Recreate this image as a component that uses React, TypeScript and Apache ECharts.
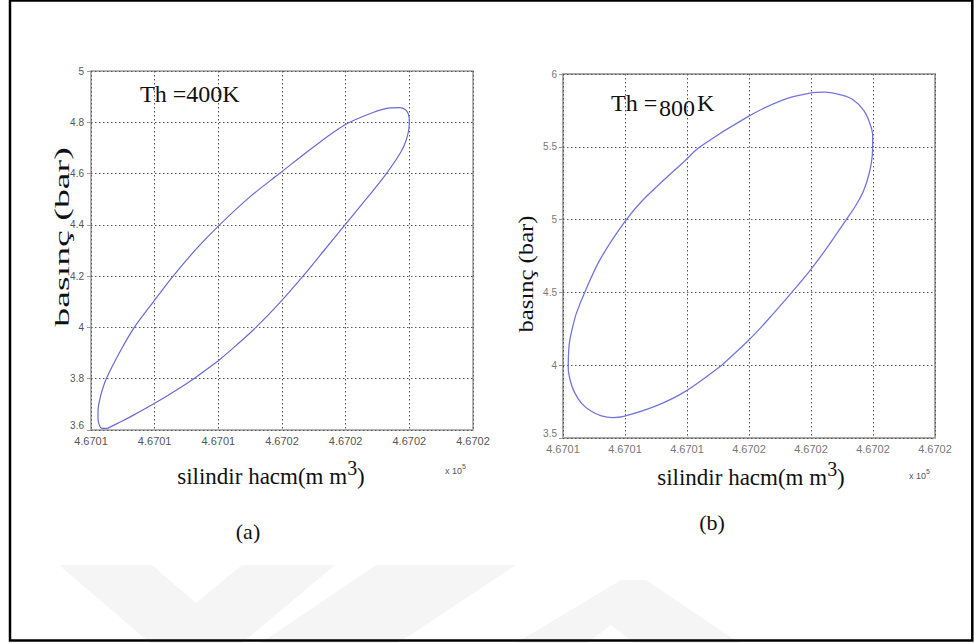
import React, { useEffect, useRef } from 'react';
import * as echarts from 'echarts';

// Cylinder volume (mm³) and pressure (bar) around one cycle, Th = 400 K
const volume400 = [
  467014.0, 467013.62, 467013.3, 467013.0, 467012.66, 467012.45, 467012.33, 467012.24,
  467012.17, 467012.13, 467012.11, 467012.11, 467012.13, 467012.17, 467012.24, 467012.455,
  467012.68, 467012.98, 467013.29, 467013.65, 467014.02, 467014.5, 467014.96, 467015.5,
  467015.99, 467016.43, 467016.7, 467016.85, 467016.94, 467016.985, 467017.0, 467016.99,
  467016.95, 467016.87, 467016.64, 467016.33, 467015.99, 467015.66, 467015.33, 467014.97,
  467014.59, 467014.29, 467014.0,
];
const pressure400 = [
  3.87, 3.801, 3.749, 3.704, 3.657, 3.63, 3.615, 3.606,
  3.606, 3.62, 3.645, 3.675, 3.71, 3.75, 3.8, 3.905,
  4.0, 4.1, 4.2, 4.305, 4.4, 4.51, 4.6, 4.705,
  4.79, 4.838, 4.856, 4.857, 4.849, 4.832, 4.805, 4.77,
  4.73, 4.685, 4.6, 4.503, 4.4, 4.3, 4.2, 4.098,
  4.0, 3.932, 3.87,
];

// Cylinder volume (mm³) and pressure (bar) around one cycle, Th = 800 K
const volume800 = [
  467014.56, 467013.98, 467013.51, 467012.98, 467012.8, 467012.62, 467012.45, 467012.3,
  467012.19, 467012.12, 467012.085, 467012.09, 467012.11, 467012.16, 467012.215, 467012.35,
  467012.59, 467012.98, 467013.29, 467013.98, 467014.21, 467014.99, 467015.55, 467015.98,
  467016.22, 467016.5, 467016.68, 467016.85, 467016.95, 467016.995, 467016.99, 467016.94,
  467016.85, 467016.72, 467016.57, 467016.28, 467015.98, 467015.69, 467015.28, 467014.99,
  467014.56,
];
const pressure800 = [
  4.0, 3.822, 3.722, 3.648, 3.64, 3.652, 3.685, 3.738,
  3.81, 3.89, 3.98, 4.09, 4.172, 4.27, 4.356, 4.5,
  4.72, 4.975, 5.135, 5.41, 5.5, 5.709, 5.823, 5.869,
  5.876, 5.855, 5.823, 5.75, 5.66, 5.575, 5.45, 5.32,
  5.2, 5.095, 5.0, 4.82, 4.648, 4.5, 4.3, 4.17,
  4.0,
];

// Volume axis: seven ticks, printed in units of 10^5 mm³
const volumeMin = 467012;
const volumeMax = 467018;
const volumeStep = 1;
const volumeTickLabels = ['4.6701', '4.6701', '4.6701', '4.6702', '4.6702', '4.6702', '4.6702'];

// Pressure axes
const pressureRange400 = { min: 3.6, max: 5, step: 0.2 };
const pressureRange800 = { min: 3.5, max: 6, step: 0.5 };

const panelLabels = ['(a)', '(b)'];
const tempLabels = ['400', '800'];

const SERIF = '"Liberation Serif", "Times New Roman", serif';
const SANS = '"Liberation Sans", Arial, sans-serif';

function pairs(xs: number[], ys: number[]) {
  return xs.map((x, i) => [x, ys[i]]);
}

function volumeAxis(gridIndex: number, color: string) {
  return {
    type: 'value',
    gridIndex,
    min: volumeMin,
    max: volumeMax,
    interval: volumeStep,
    axisLine: { show: false },
    axisTick: { show: false },
    axisLabel: {
      color,
      fontFamily: SANS,
      fontSize: 11,
      margin: 5,
      formatter: (v: number) => volumeTickLabels[Math.round((v - volumeMin) / volumeStep)] ?? '',
    },
    splitLine: {
      show: true,
      lineStyle: { color: '#555', width: 1, type: [1.5, 2.5] },
    },
  };
}

function pressureAxis(gridIndex: number, r: { min: number; max: number; step: number }, color: string, margin: number) {
  return {
    type: 'value',
    gridIndex,
    min: r.min,
    max: r.max,
    interval: r.step,
    axisLine: { show: false },
    axisTick: { show: true, inside: false, length: 4, lineStyle: { color: '#999' } },
    axisLabel: {
      color,
      fontFamily: SANS,
      fontSize: 10,
      margin,
      verticalAlignMinLabel: 'bottom',
    },
    splitLine: {
      show: true,
      lineStyle: { color: '#555', width: 1, type: [1.5, 2.5] },
    },
  };
}

function xTitle(cx: number, cy: number) {
  return {
    type: 'text',
    x: cx,
    y: cy,
    z: 10,
    style: {
      text: '{t|silindir hacm(m m}{s|3}{t|)}',
      align: 'center',
      verticalAlign: 'middle',
      rich: {
        t: { font: `23px ${SERIF}`, fill: '#111', lineHeight: 30, verticalAlign: 'bottom' },
        s: { font: `20px ${SERIF}`, fill: '#111', lineHeight: 20, verticalAlign: 'top' },
      },
    },
  };
}

function yTitle(cx: number, cy: number, stretch: number) {
  return {
    type: 'text',
    x: cx,
    y: cy,
    z: 10,
    rotation: Math.PI / 2,
    scaleX: stretch,
    style: {
      text: 'basınç (bar)',
      align: 'center',
      verticalAlign: 'middle',
      font: `22px ${SERIF}`,
      fill: '#111',
    },
  };
}

function exponent(x: number, y: number) {
  return {
    type: 'text',
    x,
    y,
    z: 10,
    style: {
      text: '{a|x 10}{b|5}',
      align: 'left',
      verticalAlign: 'middle',
      rich: {
        a: { font: `9px ${SANS}`, fill: '#555', lineHeight: 12, verticalAlign: 'bottom' },
        b: { font: `7px ${SANS}`, fill: '#555', lineHeight: 12, verticalAlign: 'top' },
      },
    },
  };
}

const WATERMARK = '#f5f5f5';

export default function App() {
  const ref = useRef<HTMLDivElement>(null);

  useEffect(() => {
    if (!ref.current) return;
    const chart = echarts.init(ref.current, undefined, { renderer: 'svg' });

    const option = {
      animation: false,
      backgroundColor: '#ffffff',
      grid: [
        {
          left: 91, top: 71, width: 382, height: 359,
          show: true, borderColor: '#9a9a9a', borderWidth: 1.5, backgroundColor: 'rgba(0,0,0,0)',
        },
        {
          left: 563, top: 74, width: 372, height: 364,
          show: true, borderColor: '#a8a8a8', borderWidth: 2, backgroundColor: 'rgba(0,0,0,0)',
        },
      ],
      xAxis: [volumeAxis(0, '#555'), volumeAxis(1, '#777')],
      yAxis: [
        pressureAxis(0, pressureRange400, '#555', 7),
        pressureAxis(1, pressureRange800, '#777', 6),
      ],
      series: [
        {
          type: 'line',
          xAxisIndex: 0,
          yAxisIndex: 0,
          data: pairs(volume400, pressure400),
          smooth: 0.3,
          symbol: 'none',
          z: 5,
          lineStyle: { color: '#6a6ad2', width: 1.2 },
        },
        {
          type: 'line',
          xAxisIndex: 1,
          yAxisIndex: 1,
          data: pairs(volume800, pressure800),
          smooth: 0.3,
          symbol: 'none',
          z: 5,
          lineStyle: { color: '#7474e0', width: 1.3 },
        },
      ],
      graphic: [
        // faint logo shapes along the bottom edge
        { type: 'polygon', z: 0, silent: true, shape: { points: [[59, 565], [152, 565], [196, 603], [242, 565], [335, 565], [242, 643], [150, 643]] }, style: { fill: WATERMARK } },
        { type: 'polygon', z: 0, silent: true, shape: { points: [[376, 565], [516, 565], [398, 643], [261, 643]] }, style: { fill: WATERMARK } },
        { type: 'polygon', z: 0, silent: true, shape: { points: [[516, 643], [621, 580], [646, 580], [739, 643], [634, 643], [611, 625], [587, 643]] }, style: { fill: WATERMARK } },

        // page frame
        { type: 'rect', z: 20, silent: true, shape: { x: 10, y: 0.5, width: 962.3, height: 640 }, style: { fill: 'none', stroke: '#000', lineWidth: 2.5 } },

        // temperature labels
        {
          type: 'text', x: 140, y: 94, z: 10,
          style: { text: `Th =${tempLabels[0]}K`, align: 'left', verticalAlign: 'middle', font: `24px ${SERIF}`, fill: '#111' },
        },
        {
          type: 'text', x: 611, y: 103, z: 10,
          style: { text: 'Th =', align: 'left', verticalAlign: 'middle', font: `24px ${SERIF}`, fill: '#111' },
        },
        {
          type: 'text', x: 659, y: 108, z: 10,
          style: { text: tempLabels[1], align: 'left', verticalAlign: 'middle', font: `24px ${SERIF}`, fill: '#111' },
        },
        {
          type: 'text', x: 697, y: 103, z: 10,
          style: { text: 'K', align: 'left', verticalAlign: 'middle', font: `24px ${SERIF}`, fill: '#111' },
        },

        yTitle(62, 237, 1.72),
        yTitle(525, 274, 1.12),
        xTitle(271, 473),
        xTitle(751, 474),
        exponent(445, 469),
        exponent(909, 474),

        {
          type: 'text', x: 248, y: 531, z: 10,
          style: { text: panelLabels[0], align: 'center', verticalAlign: 'middle', font: `22px ${SERIF}`, fill: '#111' },
        },
        {
          type: 'text', x: 712, y: 522, z: 10,
          style: { text: panelLabels[1], align: 'center', verticalAlign: 'middle', font: `22px ${SERIF}`, fill: '#111' },
        },
      ],
    };

    chart.setOption(option as any);
    return () => chart.dispose();
  }, []);

  return (
    <div
      ref={ref}
      style={{ position: 'absolute', left: 0, top: 0, width: 974, height: 643, background: '#fff' }}
    />
  );
}
